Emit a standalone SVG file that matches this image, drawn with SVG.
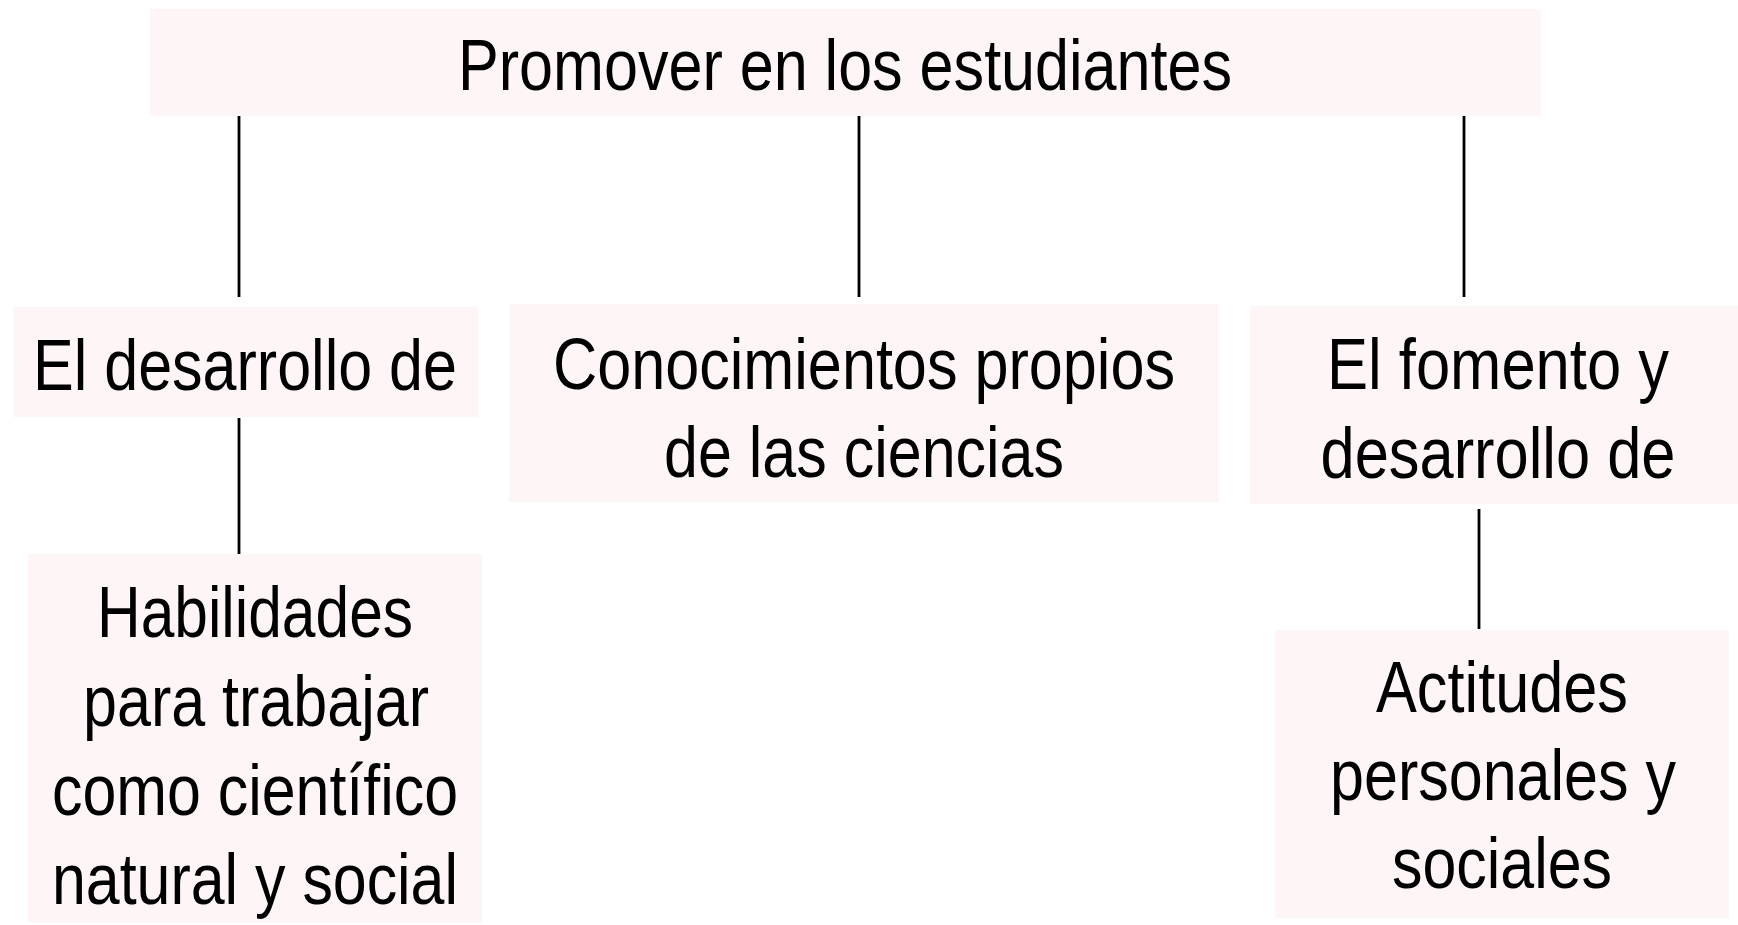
<svg xmlns="http://www.w3.org/2000/svg" width="1738" height="925" viewBox="0 0 1738 925">
<style>
.box{fill:#FEF5F6;stroke:none}
.t{font-family:"Liberation Sans",Arial,sans-serif;font-size:72px;fill:#000;text-anchor:middle}
.c{stroke:#000;stroke-width:2.8;fill:none}
</style>
<rect width="1738" height="925" fill="#fff"/>
<g id="connectors">
<line class="c" x1="239" y1="116" x2="239" y2="297"/>
<line class="c" x1="859" y1="116" x2="859" y2="297"/>
<line class="c" x1="1464" y1="116" x2="1464" y2="297"/>
<line class="c" x1="239" y1="418" x2="239" y2="555"/>
<line class="c" x1="1479" y1="509" x2="1479" y2="629"/>
</g>
<g id="promover">
<rect class="box" x="150" y="9" width="1391" height="107"/>
<text class="t" x="845" y="90" textLength="774" lengthAdjust="spacingAndGlyphs">Promover en los estudiantes</text>
</g>
<g id="desarrollo">
<rect class="box" x="13" y="307" width="465" height="110"/>
<text class="t" x="245" y="390" textLength="424" lengthAdjust="spacingAndGlyphs">El desarrollo de</text>
</g>
<g id="conocimientos">
<rect class="box" x="509" y="304" width="710" height="198"/>
<text class="t" x="864" y="389" textLength="622" lengthAdjust="spacingAndGlyphs">Conocimientos propios</text>
<text class="t" x="864" y="477" textLength="400" lengthAdjust="spacingAndGlyphs">de las ciencias</text>
</g>
<g id="fomento">
<rect class="box" x="1250" y="306" width="488" height="198"/>
<text class="t" x="1498" y="389" textLength="342" lengthAdjust="spacingAndGlyphs">El fomento y</text>
<text class="t" x="1498" y="478" textLength="355" lengthAdjust="spacingAndGlyphs">desarrollo de</text>
</g>
<g id="habilidades">
<rect class="box" x="28" y="554" width="454" height="369"/>
<text class="t" x="255" y="637" textLength="316" lengthAdjust="spacingAndGlyphs">Habilidades</text>
<text class="t" x="256" y="726" textLength="346" lengthAdjust="spacingAndGlyphs">para trabajar</text>
<text class="t" x="255" y="815" textLength="406" lengthAdjust="spacingAndGlyphs">como científico</text>
<text class="t" x="255" y="904" textLength="406" lengthAdjust="spacingAndGlyphs">natural y social</text>
</g>
<g id="actitudes">
<rect class="box" x="1275" y="630" width="454" height="288"/>
<text class="t" x="1502" y="712" textLength="252" lengthAdjust="spacingAndGlyphs">Actitudes</text>
<text class="t" x="1503" y="800" textLength="346" lengthAdjust="spacingAndGlyphs">personales y</text>
<text class="t" x="1502" y="888" textLength="220" lengthAdjust="spacingAndGlyphs">sociales</text>
</g>
</svg>
